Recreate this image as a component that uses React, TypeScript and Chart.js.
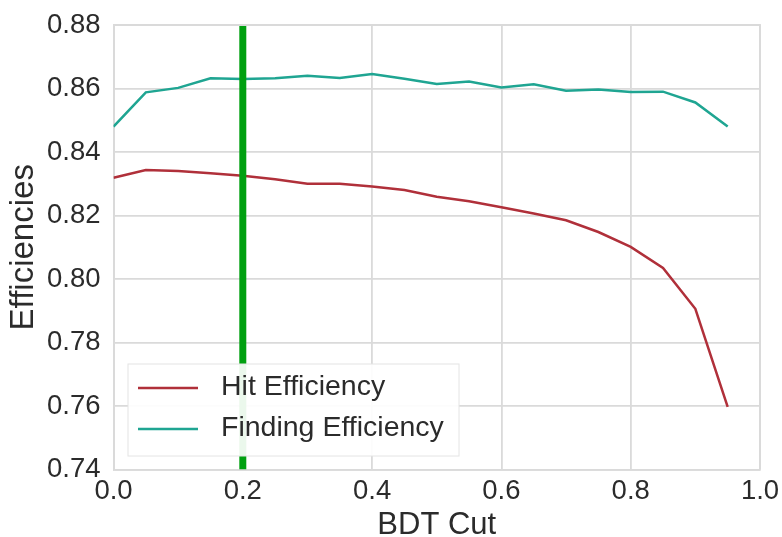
import React, { useEffect, useRef } from 'react';
import { Chart, registerables } from 'chart.js';

Chart.register(...registerables);

const cuts = [0, 0.05, 0.1, 0.15, 0.2, 0.25, 0.3, 0.35, 0.4, 0.45, 0.5, 0.55, 0.6, 0.65, 0.7, 0.75, 0.8, 0.85, 0.9, 0.95];
const hitEff = [0.8319, 0.8343, 0.834, 0.8333, 0.8325, 0.8314, 0.83, 0.83, 0.8291, 0.828, 0.8259, 0.8245, 0.8226, 0.8206, 0.8185, 0.8148, 0.8101, 0.8035, 0.7906, 0.7597];
const findEff = [0.848, 0.8588, 0.8602, 0.8632, 0.863, 0.8632, 0.864, 0.8633, 0.8646, 0.8631, 0.8614, 0.8622, 0.8603, 0.8613, 0.8593, 0.8597, 0.8589, 0.859, 0.8556, 0.848];
const chosenCut = 0.2;
const xTicks = [0, 0.2, 0.4, 0.6, 0.8, 1.0];
const yTicks = [0.74, 0.76, 0.78, 0.8, 0.82, 0.84, 0.86, 0.88];
const seriesLabels = ['Hit Efficiency', 'Finding Efficiency'];

const FONT = "'Liberation Sans', Arial, Helvetica, sans-serif";
const TEXT = '#2b2b2b';
const GRID = '#dadada';
const RED = '#b0303a';
const TEAL = '#1fa592';
const GREEN = '#00a010';

export default function App() {
  const ref = useRef<HTMLCanvasElement>(null);

  useEffect(() => {
    if (!ref.current) return;
    Chart.defaults.font.family = FONT;

    const legendPlugin = {
      id: 'innerLegend',
      afterDatasetsDraw(chart: any) {
        const { ctx, chartArea } = chart;
        const bx = chartArea.left + 14.5;
        const by = chartArea.bottom - 105.5;
        const bw = 331;
        const bh = 92;
        ctx.save();
        ctx.fillStyle = 'rgba(255,255,255,0.92)';
        ctx.strokeStyle = '#e4e4e4';
        ctx.lineWidth = 1;
        ctx.fillRect(bx, by, bw, bh);
        ctx.strokeRect(bx, by, bw, bh);
        const items = chart.data.datasets.filter((d: any) => seriesLabels.includes(d.label));
        items.forEach((d: any, i: number) => {
          const ly = by + 24 + i * 41;
          ctx.strokeStyle = d.borderColor;
          ctx.lineWidth = 2.5;
          ctx.beginPath();
          ctx.moveTo(bx + 10, ly);
          ctx.lineTo(bx + 70, ly);
          ctx.stroke();
          ctx.fillStyle = TEXT;
          ctx.font = `28.5px ${FONT}`;
          ctx.textBaseline = 'middle';
          ctx.textAlign = 'left';
          ctx.fillText(d.label, bx + 93, ly - 1);
        });
        ctx.restore();
      },
    };

    const chart = new Chart(ref.current, {
      type: 'line',
      data: {
        datasets: [
          {
            label: 'cut',
            data: [
              { x: chosenCut, y: yTicks[0] },
              { x: chosenCut, y: yTicks[yTicks.length - 1] },
            ],
            borderColor: GREEN,
            borderWidth: 7,
            pointRadius: 0,
            borderCapStyle: 'butt',
          },
          {
            label: seriesLabels[0],
            data: cuts.map((c, i) => ({ x: c, y: hitEff[i] })),
            borderColor: RED,
            borderWidth: 2.5,
            pointRadius: 0,
            tension: 0,
          },
          {
            label: seriesLabels[1],
            data: cuts.map((c, i) => ({ x: c, y: findEff[i] })),
            borderColor: TEAL,
            borderWidth: 2.5,
            pointRadius: 0,
            tension: 0,
          },
        ],
      },
      options: {
        responsive: false,
        animation: false,
        layout: { padding: { top: 25, right: 22, left: 0, bottom: 0 } },
        plugins: {
          legend: { display: false },
          tooltip: { enabled: false },
        },
        scales: {
          x: {
            type: 'linear',
            min: xTicks[0],
            max: xTicks[xTicks.length - 1],
            afterBuildTicks: (s: any) => {
              s.ticks = xTicks.map((v) => ({ value: v }));
            },
            afterFit: (s: any) => {
              s.height = 67.5;
              s.paddingLeft = 0;
              s.paddingRight = 0;
            },
            ticks: {
              callback: (v: any) => Number(v).toFixed(1),
              font: { size: 27.5, family: FONT, lineHeight: 0.85 },
              color: TEXT,
              padding: 10.5,
              maxRotation: 0,
            },
            grid: { color: GRID, lineWidth: 1.8, drawTicks: false },
            border: { display: true, color: GRID, width: 1.8 },
            title: {
              display: true,
              text: 'BDT Cut',
              font: { size: 31, family: FONT, lineHeight: 0.77 },
              color: TEXT,
              padding: 0,
            },
          },
          y: {
            type: 'linear',
            min: yTicks[0],
            max: yTicks[yTicks.length - 1],
            afterBuildTicks: (s: any) => {
              s.ticks = yTicks.map((v) => ({ value: v }));
            },
            afterFit: (s: any) => {
              s.width = 113.5;
              s.paddingTop = 0;
              s.paddingBottom = 0;
            },
            ticks: {
              callback: (v: any) => Number(v).toFixed(2),
              font: { size: 27.5, family: FONT, lineHeight: 0.85 },
              color: TEXT,
              padding: 13,
            },
            grid: { color: GRID, lineWidth: 1.8, drawTicks: false },
            border: { display: true, color: GRID, width: 1.8 },
            title: {
              display: true,
              text: 'Efficiencies',
              font: { size: 33, family: FONT, lineHeight: 1.2 },
              color: TEXT,
              padding: { top: 4, bottom: 0 },
            },
          },
        },
      },
      plugins: [
        legendPlugin,
        {
          id: 'frame',
          afterDatasetsDraw(c: any) {
            const { ctx, chartArea } = c;
            ctx.save();
            ctx.strokeStyle = GRID;
            ctx.lineWidth = 1.8;
            ctx.beginPath();
            ctx.moveTo(chartArea.left, chartArea.top);
            ctx.lineTo(chartArea.right, chartArea.top);
            ctx.lineTo(chartArea.right, chartArea.bottom);
            ctx.stroke();
            ctx.restore();
          },
        } as any,
      ],
    } as any);

    return () => chart.destroy();
  }, []);

  return (
    <div style={{ position: 'absolute', left: 0, top: 0, width: 782, height: 537, background: '#fff' }}>
      <canvas ref={ref} width={782} height={537} style={{ display: 'block' }} />
    </div>
  );
}
